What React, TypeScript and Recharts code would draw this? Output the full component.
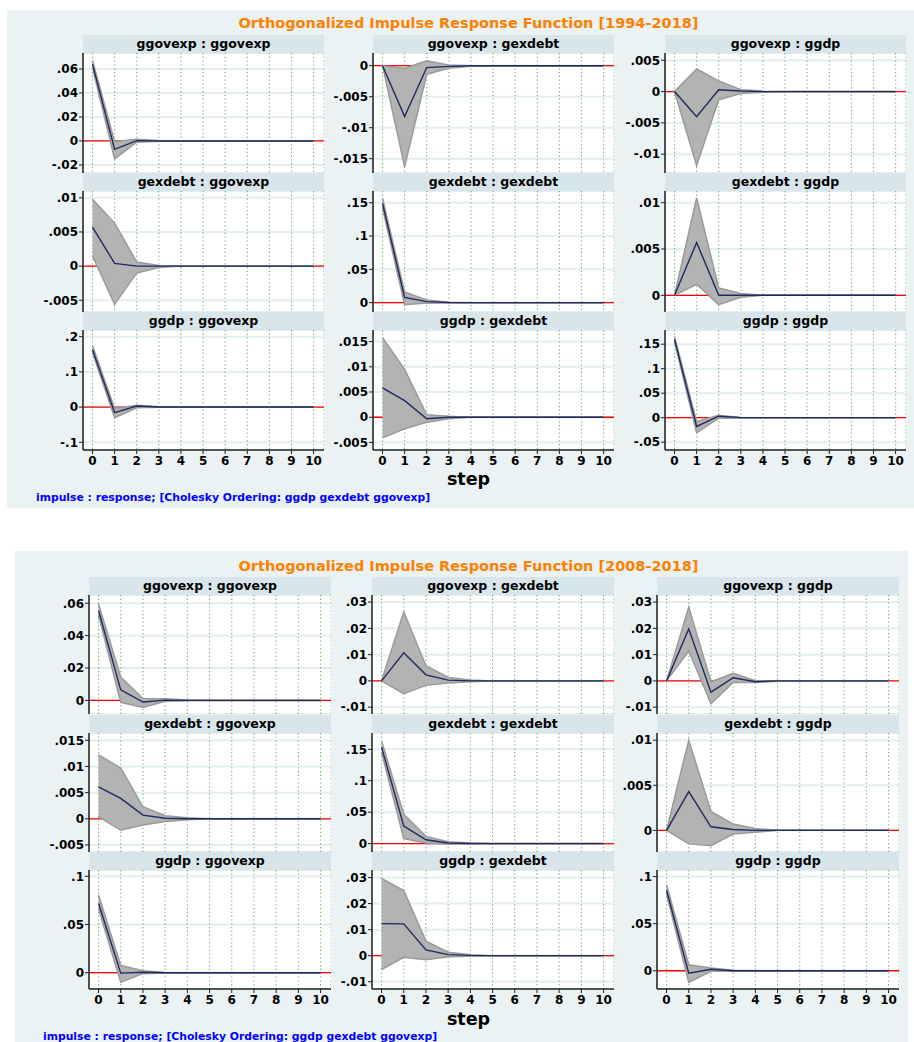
import React from 'react';
import { ComposedChart, Area, Line, XAxis, YAxis, CartesianGrid, ReferenceLine } from 'recharts';

// ---------------- DATA ----------------
const steps = [0, 1, 2, 3, 4, 5, 6, 7, 8, 9, 10];

// 1994-2018
const a11Irf = [0.064, -0.007, 0.0003, 0, 0, 0, 0, 0, 0, 0, 0];
const a11Lo = [0.061, -0.015, -0.001, -0.0003, 0, 0, 0, 0, 0, 0, 0];
const a11Hi = [0.067, -0.0005, 0.0015, 0.0003, 0, 0, 0, 0, 0, 0, 0];

const a12Irf = [0, -0.0082, -0.0003, -0.0001, 0, 0, 0, 0, 0, 0, 0];
const a12Lo = [0, -0.0163, -0.0014, -0.0004, -0.0001, 0, 0, 0, 0, 0, 0];
const a12Hi = [0, -0.0004, 0.0008, 0.0001, 0, 0, 0, 0, 0, 0, 0];

const a13Irf = [0, -0.004, 0.0003, 0.0001, 0, 0, 0, 0, 0, 0, 0];
const a13Lo = [0, -0.0118, -0.0013, -0.0003, -0.0001, 0, 0, 0, 0, 0, 0];
const a13Hi = [0, 0.0036, 0.0017, 0.0003, 0.0001, 0, 0, 0, 0, 0, 0];

const a21Irf = [0.0057, 0.0004, 0, 0, 0, 0, 0, 0, 0, 0, 0];
const a21Lo = [0.0015, -0.0056, -0.001, -0.0002, 0, 0, 0, 0, 0, 0, 0];
const a21Hi = [0.0098, 0.0063, 0.0006, 0.0001, 0, 0, 0, 0, 0, 0, 0];

const a22Irf = [0.149, 0.008, 0.0015, 0.0002, 0, 0, 0, 0, 0, 0, 0];
const a22Lo = [0.142, -0.003, -0.0005, -0.0002, 0, 0, 0, 0, 0, 0, 0];
const a22Hi = [0.157, 0.016, 0.004, 0.0005, 0, 0, 0, 0, 0, 0, 0];

const a23Irf = [0, 0.0057, 0, 0, 0, 0, 0, 0, 0, 0, 0];
const a23Lo = [0, 0.0012, -0.001, -0.0002, 0, 0, 0, 0, 0, 0, 0];
const a23Hi = [0, 0.0105, 0.0008, 0.0002, 0, 0, 0, 0, 0, 0, 0];

const a31Irf = [0.163, -0.016, 0.003, 0, 0, 0, 0, 0, 0, 0, 0];
const a31Lo = [0.155, -0.03, -0.002, -0.0005, 0, 0, 0, 0, 0, 0, 0];
const a31Hi = [0.174, -0.004, 0.005, 0.001, 0, 0, 0, 0, 0, 0, 0];

const a32Irf = [0.0058, 0.0033, -0.0003, 0, 0, 0, 0, 0, 0, 0, 0];
const a32Lo = [-0.0041, -0.0023, -0.001, -0.0003, 0, 0, 0, 0, 0, 0, 0];
const a32Hi = [0.0158, 0.0095, 0.0005, 0.0002, 0, 0, 0, 0, 0, 0, 0];

const a33Irf = [0.16, -0.018, 0.003, 0, 0, 0, 0, 0, 0, 0, 0];
const a33Lo = [0.155, -0.031, -0.001, -0.0005, 0, 0, 0, 0, 0, 0, 0];
const a33Hi = [0.166, -0.008, 0.005, 0.0005, 0, 0, 0, 0, 0, 0, 0];

// 2008-2018
const b11Irf = [0.0555, 0.0065, -0.001, 0.0002, 0, 0, 0, 0, 0, 0, 0];
const b11Lo = [0.0525, -0.0012, -0.0043, -0.0005, -0.0002, 0, 0, 0, 0, 0, 0];
const b11Hi = [0.0595, 0.0145, 0.0012, 0.001, 0.0002, 0, 0, 0, 0, 0, 0];

const b12Irf = [0, 0.0107, 0.0023, 0.0003, 0, 0, 0, 0, 0, 0, 0];
const b12Lo = [0, -0.0049, -0.0017, -0.0008, -0.0003, 0, 0, 0, 0, 0, 0];
const b12Hi = [0, 0.0263, 0.0058, 0.0013, 0.0003, 0, 0, 0, 0, 0, 0];

const b13Irf = [0, 0.0198, -0.0043, 0.0012, -0.0003, 0, 0, 0, 0, 0, 0];
const b13Lo = [0, 0.0114, -0.0087, -0.0006, -0.0006, -0.0001, 0, 0, 0, 0, 0];
const b13Hi = [0, 0.0281, -0.0003, 0.0029, 0.0001, 0, 0, 0, 0, 0, 0];

const b21Irf = [0.0061, 0.0039, 0.0007, 0.0001, 0, 0, 0, 0, 0, 0, 0];
const b21Lo = [0.0004, -0.0022, -0.0012, -0.0005, -0.0002, 0, 0, 0, 0, 0, 0];
const b21Hi = [0.0122, 0.0097, 0.0023, 0.0006, 0.0002, 0, 0, 0, 0, 0, 0];

const b22Irf = [0.1535, 0.028, 0.006, 0.001, 0.0002, 0, 0, 0, 0, 0, 0];
const b22Lo = [0.145, 0.008, 0.001, -0.0005, -0.0003, 0, 0, 0, 0, 0, 0];
const b22Hi = [0.1635, 0.0467, 0.0115, 0.003, 0.001, 0.0002, 0, 0, 0, 0, 0];

const b23Irf = [0, 0.0043, 0.0004, 0.0001, 0, 0, 0, 0, 0, 0, 0];
const b23Lo = [0, -0.0015, -0.0017, -0.0004, -0.0002, 0, 0, 0, 0, 0, 0];
const b23Hi = [0, 0.01, 0.0021, 0.0007, 0.0002, 0, 0, 0, 0, 0, 0];

const b31Irf = [0.072, -0.0004, 0.0005, 0, 0, 0, 0, 0, 0, 0, 0];
const b31Lo = [0.066, -0.01, -0.001, -0.0002, 0, 0, 0, 0, 0, 0, 0];
const b31Hi = [0.0805, 0.0075, 0.002, 0.0003, 0, 0, 0, 0, 0, 0, 0];

const b32Irf = [0.0123, 0.0122, 0.0022, 0.0004, 0.0001, 0, 0, 0, 0, 0, 0];
const b32Lo = [-0.0053, -0.0006, -0.0016, -0.0004, -0.0002, 0, 0, 0, 0, 0, 0];
const b32Hi = [0.0297, 0.025, 0.0056, 0.0013, 0.0004, 0, 0, 0, 0, 0, 0];

const b33Irf = [0.0855, -0.0025, 0.0015, 0, 0, 0, 0, 0, 0, 0, 0];
const b33Lo = [0.081, -0.0123, -0.0005, -0.0005, 0, 0, 0, 0, 0, 0, 0];
const b33Hi = [0.0915, 0.0063, 0.003, 0.0005, 0, 0, 0, 0, 0, 0, 0];

// tick values
const a11Ticks = [-0.02, 0, 0.02, 0.04, 0.06];
const a12Ticks = [-0.015, -0.01, -0.005, 0];
const a13Ticks = [-0.01, -0.005, 0, 0.005];
const a21Ticks = [-0.005, 0, 0.005, 0.01];
const a22Ticks = [0, 0.05, 0.1, 0.15];
const a23Ticks = [0, 0.005, 0.01];
const a31Ticks = [-0.1, 0, 0.1, 0.2];
const a32Ticks = [-0.005, 0, 0.005, 0.01, 0.015];
const a33Ticks = [-0.05, 0, 0.05, 0.1, 0.15];
const b11Ticks = [0, 0.02, 0.04, 0.06];
const b12Ticks = [-0.01, 0, 0.01, 0.02, 0.03];
const b13Ticks = [-0.01, 0, 0.01, 0.02, 0.03];
const b21Ticks = [-0.005, 0, 0.005, 0.01, 0.015];
const b22Ticks = [0, 0.05, 0.1, 0.15];
const b23Ticks = [0, 0.005, 0.01];
const b31Ticks = [0, 0.05, 0.1];
const b32Ticks = [-0.01, 0, 0.01, 0.02, 0.03];
const b33Ticks = [0, 0.05, 0.1];

const names = ['ggovexp', 'gexdebt', 'ggdp'];
const titleA = 'Orthogonalized Impulse Response Function [1994-2018]';
const titleB = 'Orthogonalized Impulse Response Function [2008-2018]';
const note = 'impulse : response; [Cholesky Ordering: ggdp gexdebt ggovexp]';
const xLabel = 'step';

// ---------------- STYLE / LAYOUT ----------------
const FONT = '"DejaVu Sans", "Liberation Sans", Arial, sans-serif';
const BG = '#eaf2f3';
const STRIP = '#d8e5eb';
const YW = 50;
const XDOM: [number, number] = [-0.43, 10.47];

function fmt(v: number) {
  const r = Math.round(v * 100000) / 100000;
  if (r === 0) return '0';
  return String(r).replace('0.', '.');
}

const EmptyTick = () => <g />;

type PanelProps = {
  title: string;
  irf: number[];
  lo: number[];
  hi: number[];
  ticks: number[];
  domain: [number, number];
  left: number;
  top: number;
  width: number;
  height: number;
  showX: boolean;
};

function Panel(p: PanelProps) {
  const data = steps.map((s, i) => ({ step: s, irf: p.irf[i], band: [p.lo[i], p.hi[i]] }));
  const xh = p.showX ? 22 : 0;
  const tickStyle = { fill: '#000', fontSize: 12, fontWeight: 'bold', fontFamily: FONT };
  return (
    <div style={{ position: 'absolute', left: p.left, top: p.top - 18 }}>
      <div
        style={{
          position: 'absolute', left: 0, top: 0, width: p.width, height: 18, background: STRIP,
          fontFamily: FONT, fontWeight: 'bold', fontSize: 12.5, lineHeight: '18px', textAlign: 'center',
          color: '#000', whiteSpace: 'nowrap',
        }}
      >
        {p.title}
      </div>
      <div style={{ position: 'absolute', left: 0, top: 18, width: p.width, height: p.height, background: '#fff' }} />
      <div style={{ position: 'absolute', left: -YW, top: 18 }}>
        <ComposedChart width={p.width + YW} height={p.height + xh} data={data} margin={{ top: 0, right: 0, bottom: 0, left: 0 }}>
          <CartesianGrid vertical={false} stroke="#e4edf0" strokeWidth={2} />
          <CartesianGrid horizontal={false} stroke="#5fb85f" strokeDasharray="1.2 2.6" strokeWidth={1.1} />
          <XAxis
            type="number"
            dataKey="step"
            domain={XDOM}
            ticks={steps}
            interval={0}
            allowDataOverflow
            height={xh}
            tick={p.showX ? tickStyle : EmptyTick}
            axisLine={p.showX ? { stroke: '#222', strokeWidth: 1.5 } : false}
            tickLine={p.showX ? { stroke: '#222' } : false}
            tickSize={4}
            tickMargin={2}
          />
          <YAxis
            type="number"
            domain={p.domain}
            ticks={p.ticks}
            interval={0}
            allowDataOverflow
            width={YW}
            tickFormatter={fmt}
            tick={tickStyle}
            tickSize={4}
            tickMargin={1}
            axisLine={{ stroke: '#222', strokeWidth: 1.5 }}
            tickLine={{ stroke: '#222' }}
          />
          <ReferenceLine y={0} stroke="#ff0000" strokeWidth={1.3} zIndex={50} />
          <Area
            type="linear"
            dataKey="band"
            stroke="#9a9a9a"
            strokeWidth={1.5}
            fill="#b3b3b3"
            fillOpacity={1}
            isAnimationActive={false}
            activeDot={false}
          />
          <Line
            type="linear"
            dataKey="irf"
            stroke="#1c2a5e"
            strokeWidth={1.4}
            dot={false}
            activeDot={false}
            isAnimationActive={false}
          />
        </ComposedChart>
      </div>
    </div>
  );
}

const aSeries = [
  [a11Irf, a11Lo, a11Hi, a11Ticks], [a12Irf, a12Lo, a12Hi, a12Ticks], [a13Irf, a13Lo, a13Hi, a13Ticks],
  [a21Irf, a21Lo, a21Hi, a21Ticks], [a22Irf, a22Lo, a22Hi, a22Ticks], [a23Irf, a23Lo, a23Hi, a23Ticks],
  [a31Irf, a31Lo, a31Hi, a31Ticks], [a32Irf, a32Lo, a32Hi, a32Ticks], [a33Irf, a33Lo, a33Hi, a33Ticks],
];
const bSeries = [
  [b11Irf, b11Lo, b11Hi, b11Ticks], [b12Irf, b12Lo, b12Hi, b12Ticks], [b13Irf, b13Lo, b13Hi, b13Ticks],
  [b21Irf, b21Lo, b21Hi, b21Ticks], [b22Irf, b22Lo, b22Hi, b22Ticks], [b23Irf, b23Lo, b23Hi, b23Ticks],
  [b31Irf, b31Lo, b31Hi, b31Ticks], [b32Irf, b32Lo, b32Hi, b32Ticks], [b33Irf, b33Lo, b33Hi, b33Ticks],
];

const aDomains: [number, number][] = [
  [-0.0267, 0.0733], [-0.0173, 0.00205], [-0.013, 0.00616],
  [-0.00672, 0.011], [-0.014, 0.1676], [-0.0018, 0.01126],
  [-0.122, 0.219], [-0.0065, 0.0173], [-0.066, 0.179],
];
const bDomains: [number, number][] = [
  [-0.0084, 0.0651], [-0.0126, 0.0327], [-0.0126, 0.0327],
  [-0.00635, 0.0164], [-0.0134, 0.176], [-0.0024, 0.0108],
  [-0.0169, 0.1065], [-0.0128, 0.0329], [-0.0194, 0.107],
];

const aLayout = { cols: [83, 373, 665], rows: [53, 191, 330], heights: [120, 121, 120], width: 241 };
const bLayout = { cols: [89, 372, 657], rows: [595, 733, 870], heights: [119, 119, 119], width: 242 };

function Figure(props: {
  series: any[]; domains: [number, number][]; layout: typeof aLayout; title: string;
  bg: { left: number; top: number; width: number; height: number };
  titleY: number; stepY: number; noteX: number; noteY: number;
}) {
  const { series, domains, layout, bg } = props;
  const panels = [];
  for (let r = 0; r < 3; r++) {
    for (let c = 0; c < 3; c++) {
      const k = r * 3 + c;
      const [irf, lo, hi, ticks] = series[k];
      panels.push(
        <Panel
          key={k}
          title={`${names[r]} : ${names[c]}`}
          irf={irf}
          lo={lo}
          hi={hi}
          ticks={ticks}
          domain={domains[k]}
          left={layout.cols[c]}
          top={layout.rows[r]}
          width={layout.width}
          height={layout.heights[r]}
          showX={r === 2}
        />
      );
    }
  }
  return (
    <>
      <div style={{ position: 'absolute', left: bg.left, top: bg.top, width: bg.width, height: bg.height, background: BG }} />
      <div
        style={{
          position: 'absolute', left: 468.5, top: props.titleY - 9, transform: 'translateX(-50%)', whiteSpace: 'nowrap',
          fontFamily: FONT, fontWeight: 'bold', fontSize: 14.5, lineHeight: '18px', color: '#ff8000',
        }}
      >
        {props.title}
      </div>
      {panels}
      <div
        style={{
          position: 'absolute', left: 468.5, top: props.stepY - 11, transform: 'translateX(-50%)', whiteSpace: 'nowrap',
          fontFamily: FONT, fontWeight: 'bold', fontSize: 17.5, lineHeight: '22px', color: '#000',
        }}
      >
        {xLabel}
      </div>
      <div
        style={{
          position: 'absolute', left: props.noteX, top: props.noteY - 7, whiteSpace: 'nowrap',
          fontFamily: FONT, fontWeight: 'bold', fontSize: 10.8, lineHeight: '14px', color: '#0000ff',
        }}
      >
        {note}
      </div>
    </>
  );
}

export default function App() {
  return (
    <div style={{ position: 'absolute', left: 0, top: 0, width: 914, height: 1042, background: '#fff', overflow: 'hidden' }}>
      <Figure
        series={aSeries}
        domains={aDomains}
        layout={aLayout}
        title={titleA}
        bg={{ left: 7, top: 10, width: 907, height: 498 }}
        titleY={23}
        stepY={479}
        noteX={36}
        noteY={498}
      />
      <Figure
        series={bSeries}
        domains={bDomains}
        layout={bLayout}
        title={titleB}
        bg={{ left: 15, top: 551, width: 893, height: 491 }}
        titleY={566}
        stepY={1019}
        noteX={43}
        noteY={1037}
      />
    </div>
  );
}
